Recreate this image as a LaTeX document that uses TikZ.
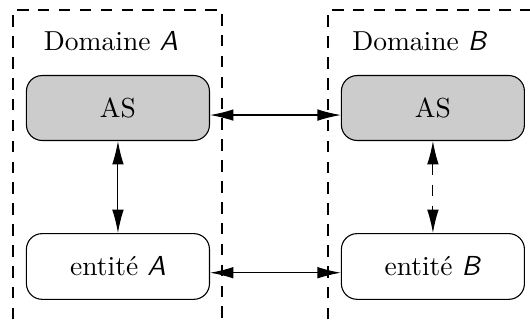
\documentclass[tikz,border=0pt]{standalone}
\usepackage{amsmath}
\usepackage{tikz}
\usetikzlibrary{arrows.meta}
\newcommand{\dom}[1]{\textsf{\textit{#1}}}

\begin{document}
\begin{tikzpicture}[>={Latex[length=8.5pt,width=4.2pt]},
		domborder/.style={dash pattern=on 4.2pt off 3.4pt},
		asbox/.style={draw,rounded corners=0.2cm,fill=black!20,minimum width=2.34cm,minimum height=0.83cm},
		entbox/.style={draw,rounded corners=0.2cm,fill=white,minimum width=2.34cm,minimum height=0.84cm}]
		\path[use as bounding box,clip] (0,0) rectangle (6.776,4.117);
		% les deux domaines
		\draw[domborder] (0.166,-0.5) -- (0.166,3.989) -- (2.838,3.989) -- (2.838,-0.5);
		\draw[domborder] (4.193,-0.5) -- (4.193,3.989) -- (7.2,3.989);
		\node[anchor=base] (domA) at (1.419,3.477) {Domaine \dom{A}};
		\node[anchor=base] (domB) at (5.369,3.477) {Domaine \dom{B}};
		% serveurs et entites
		\node[asbox] (asA) at (1.508,2.736) {AS};
		\node[asbox] (asB) at (5.535,2.736) {AS};
		\node[entbox] (entA) at (1.508,0.71) {entit\'e \dom{A}};
		\node[entbox] (entB) at (5.535,0.71) {entit\'e \dom{B}};
		\draw[<->] ([yshift=-0.09cm]asA.east) -- ([yshift=-0.09cm]asB.west);
		\draw[<->] ([yshift=-0.08cm]entA.east) -- ([yshift=-0.08cm]entB.west);
		\draw[<->] (asA) -- (entA);
		\draw[<->,domborder] (asB) -- (entB);
	\end{tikzpicture}
\end{document}
